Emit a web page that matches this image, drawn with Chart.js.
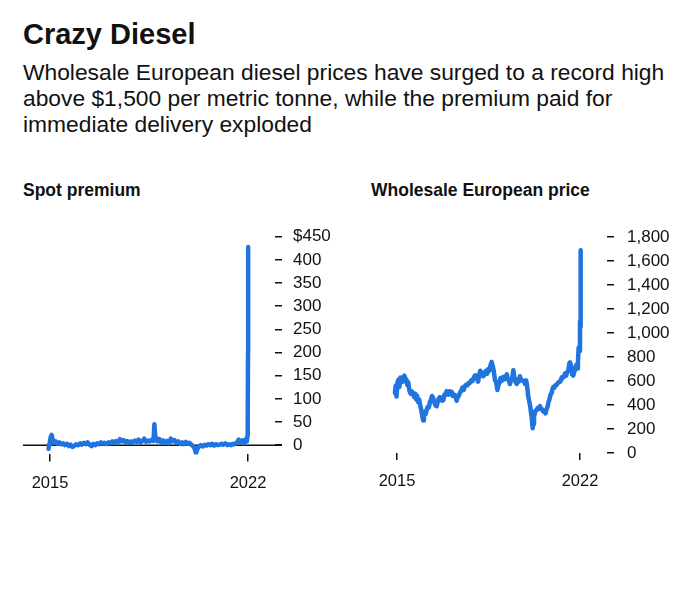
<!DOCTYPE html>
<html>
<head>
<meta charset="utf-8">
<script src="https://cdn.jsdelivr.net/npm/chart.js@4"></script>
<style>
  body { margin: 0; background: #fff; width: 680px; height: 616px; position: relative; overflow: hidden;
         font-family: "Liberation Sans", Arial, sans-serif; color: #111; }
  .title { position: absolute; left: 23px; top: 19.5px; font-size: 29px; line-height: 29px; font-weight: bold; }
  .sub { position: absolute; left: 23px; top: 59px; width: 670px; font-size: 22.8px; line-height: 26px; }
  .ctitle { position: absolute; top: 182.3px; font-size: 17.5px; line-height: 17.5px; font-weight: bold; }
  canvas { position: absolute; top: 200px; }
</style>
</head>
<body>
<div class="title">Crazy Diesel</div>
<div class="sub">Wholesale European diesel prices have surged to a record high<br>above $1,500 per metric tonne, while the premium paid for<br>immediate delivery exploded</div>
<div class="ctitle" style="left:23px">Spot premium</div>
<div class="ctitle" style="left:371px">Wholesale European price</div>
<canvas id="spot" width="340" height="310" style="left:0"></canvas>
<canvas id="price" width="340" height="310" style="left:340px"></canvas>
<script>
// spot premium, $/t
const spotYears = [2014.95, 2014.97, 2015.0, 2015.03, 2015.06, 2015.09, 2015.13, 2015.2, 2015.27, 2015.33, 2015.4, 2015.47, 2015.53, 2015.6, 2015.67, 2015.73, 2015.8, 2015.87, 2015.93,
  2016.0, 2016.07, 2016.13, 2016.2, 2016.27, 2016.33, 2016.4, 2016.47, 2016.53, 2016.6, 2016.67, 2016.73, 2016.8, 2016.87, 2016.93,
  2017.0, 2017.07, 2017.13, 2017.2, 2017.27, 2017.33, 2017.4, 2017.47, 2017.53, 2017.6, 2017.67, 2017.73, 2017.8, 2017.87, 2017.93,
  2018.0, 2018.07, 2018.13, 2018.2, 2018.27, 2018.33, 2018.4, 2018.47, 2018.53, 2018.6, 2018.66, 2018.69, 2018.72, 2018.76, 2018.8, 2018.87, 2018.93,
  2019.0, 2019.07, 2019.13, 2019.2, 2019.27, 2019.33, 2019.4, 2019.47, 2019.53, 2019.6, 2019.67, 2019.73, 2019.8, 2019.87, 2019.93,
  2020.0, 2020.07, 2020.12, 2020.16, 2020.2, 2020.25, 2020.33, 2020.4, 2020.47, 2020.53, 2020.6, 2020.67, 2020.73, 2020.8, 2020.87, 2020.93,
  2021.0, 2021.07, 2021.13, 2021.2, 2021.27, 2021.33, 2021.4, 2021.47, 2021.53, 2021.6, 2021.67, 2021.73, 2021.8, 2021.87, 2021.93, 2021.96, 2021.98, 2021.99, 2022.0, 2022.005];
const spotValues = [-8, 2, 10, 18, 22, 12, 5, 8, 3, 6, 2, 4, 0, 3, -2, 1, -4, -1, 2,
  0, 4, 1, 5, 2, 6, 1, -2, 3, 0, 4, 2, 6, 3, 5,
  2, 6, 4, 8, 5, 9, 6, 13, 8, 11, 6, 9, 5, 8, 6,
  10, 7, 12, 6, 9, 14, 7, 10, 8, 12, 9, 45, 20, 14, 8, 13, 6,
  10, 5, 9, 4, 14, 8, 11, 5, 8, 3, 6, 2, 7, 3, 5,
  1, -3, -8, -18, -10, -4, 0, -3, 1, -1, 2, 0, 3, -1, 2, 0,
  1, 3, 1, 4, 0, 2, 0, 3, 2, 5, 12, 6, 10, 4, 14, 8, 20, 45, 200, 428];

// wholesale European diesel, $/t
const priceYears = [2014.92, 2014.95, 2014.98, 2015.02, 2015.05, 2015.09, 2015.13, 2015.18, 2015.23, 2015.28, 2015.31, 2015.36, 2015.4, 2015.43, 2015.48, 2015.52, 2015.56, 2015.61, 2015.66, 2015.7, 2015.74, 2015.77, 2015.81, 2015.85, 2015.88, 2015.92, 2015.96,
  2016.0, 2016.03, 2016.07, 2016.1, 2016.14, 2016.18, 2016.22, 2016.26, 2016.3, 2016.34, 2016.39, 2016.43, 2016.47, 2016.52, 2016.56, 2016.6, 2016.64, 2016.68, 2016.72, 2016.77, 2016.81, 2016.86, 2016.9, 2016.95,
  2017.0, 2017.04, 2017.09, 2017.13, 2017.17, 2017.21, 2017.25, 2017.28, 2017.32, 2017.36, 2017.41, 2017.45, 2017.5, 2017.55, 2017.6, 2017.65, 2017.7, 2017.75, 2017.79, 2017.84, 2017.89, 2017.93, 2017.98,
  2018.02, 2018.06, 2018.1, 2018.14, 2018.18, 2018.22, 2018.26, 2018.3, 2018.35, 2018.4, 2018.45, 2018.49, 2018.53, 2018.57, 2018.62, 2018.66, 2018.7, 2018.75, 2018.79, 2018.84, 2018.88, 2018.92, 2018.96,
  2019.0, 2019.04, 2019.08, 2019.12, 2019.16, 2019.2, 2019.24, 2019.28, 2019.32, 2019.36, 2019.4, 2019.45, 2019.49, 2019.53, 2019.58, 2019.62, 2019.66, 2019.7, 2019.74, 2019.78, 2019.82, 2019.86, 2019.9, 2019.94, 2019.98,
  2020.02, 2020.06, 2020.1, 2020.13, 2020.15, 2020.17, 2020.19, 2020.21, 2020.24, 2020.27, 2020.3, 2020.34, 2020.38, 2020.42, 2020.47, 2020.51, 2020.55, 2020.6, 2020.64, 2020.68, 2020.72, 2020.76, 2020.79, 2020.83, 2020.87, 2020.91, 2020.95, 2020.98,
  2021.02, 2021.06, 2021.1, 2021.14, 2021.17, 2021.21, 2021.25, 2021.3, 2021.34, 2021.38, 2021.43, 2021.47, 2021.51, 2021.55, 2021.59, 2021.62, 2021.66, 2021.7, 2021.74, 2021.78, 2021.82, 2021.86, 2021.89, 2021.92, 2021.95, 2021.98,
  2022.0, 2022.01, 2022.02, 2022.03];
const priceValues = [500, 560, 470, 590, 610, 550, 630, 615, 595, 645, 625, 610, 565, 590, 515, 495, 515, 500, 465, 495, 445, 475, 425, 445, 405, 365, 315,
  270, 305, 345, 325, 365, 385, 380, 425, 445, 475, 455, 420, 395, 390, 430, 455, 465, 445, 435, 440, 485, 495, 515, 485,
  515, 490, 510, 475, 475, 485, 460, 435, 465, 475, 505, 515, 545, 525, 560, 570, 565, 585, 585, 605, 600, 625, 645,
  645, 625, 595, 645, 685, 675, 645, 640, 655, 685, 660, 700, 685, 725, 760, 725, 685, 605, 595, 525, 565, 585, 625,
  600, 630, 635, 615, 635, 655, 615, 605, 575, 605, 615, 690, 625, 595, 575, 615, 595, 640, 615, 605, 605, 595, 575, 605, 555,
  470, 430, 380, 330, 300, 250, 206, 240, 300, 330, 355, 355, 375, 370, 390, 365, 365, 345, 345, 330, 365, 385, 420, 445, 485, 495, 535, 550,
  545, 565, 565, 580, 585, 595, 595, 630, 625, 635, 665, 645, 675, 685, 745, 755, 725, 655, 645, 675, 705, 735, 705, 755, 880, 850,
  1100, 1050, 1400, 1690];

const yearTicks = [2015, 2022];
const spotTicks = [0, 50, 100, 150, 200, 250, 300, 350, 400, 450];
const priceTicks = [0, 200, 400, 600, 800, 1000, 1200, 1400, 1600, 1800];

const BLUE = "#1f74e0";
const INK = "#111";
Chart.defaults.font.family = '"Liberation Sans", Arial, sans-serif';
Chart.defaults.color = INK;

function pairs(xs, ys) {
  return xs.map((x, i) => ({ x: x, y: ys[i] }));
}

// zero line on the spot chart, running under the data out to the tick dashes
const zeroLine = {
  id: "zeroLine",
  beforeDatasetsDraw(chart) {
    const { ctx, chartArea, scales } = chart;
    const y = scales.y.getPixelForValue(0);
    ctx.save();
    ctx.strokeStyle = INK;
    ctx.lineWidth = 1.5;
    ctx.beginPath();
    ctx.moveTo(chartArea.left, y);
    ctx.lineTo(chartArea.right + 7, y);
    ctx.stroke();
    ctx.restore();
  },
};

function makeChart(id, data, o) {
  return new Chart(document.getElementById(id), {
    type: "line",
    data: {
      datasets: [{
        data: data,
        borderColor: BLUE,
        borderWidth: 4.5,
        pointRadius: 0,
        tension: 0,
        borderJoinStyle: "round",
        borderCapStyle: "round",
      }],
    },
    options: {
      responsive: false,
      animation: false,
      layout: { padding: { left: o.left, top: o.top, right: 0, bottom: 0 } },
      plugins: { legend: { display: false }, tooltip: { enabled: false } },
      scales: {
        x: {
          type: "linear",
          min: o.xmin,
          max: o.xmax,
          afterBuildTicks: (s) => { s.ticks = yearTicks.map((v) => ({ value: v })); },
          afterFit: (s) => { s.height = o.xh; },
          grid: { drawOnChartArea: false, drawTicks: true, tickLength: 7, color: INK, lineWidth: 1.5 },
          border: { display: false },
          ticks: { font: { size: 16.5 }, padding: 12, maxRotation: 0, callback: (v) => String(v) },
        },
        y: {
          position: "right",
          min: o.ymin,
          max: o.ymax,
          afterBuildTicks: (s) => { s.ticks = o.yticks.map((v) => ({ value: v })); },
          afterFit: (s) => { s.width = o.yw; },
          grid: { drawOnChartArea: false, drawTicks: true, tickLength: 7, color: INK, lineWidth: 1.5 },
          border: { display: false },
          ticks: { font: { size: 17 }, padding: o.ypad, callback: o.fmt },
        },
      },
    },
    plugins: o.plugins || [],
  });
}

makeChart("spot", pairs(spotYears, spotValues), {
  left: 23, top: 36.7, xh: 55.6, yw: 65, ypad: 11,
  xmin: 2014.046, xmax: 2022.954, ymin: -20, ymax: 450,
  yticks: spotTicks,
  fmt: (v) => (v === 450 ? "$" + v : String(v)),
  plugins: [zeroLine],
});

makeChart("price", pairs(priceYears, priceValues), {
  left: 31, top: 37, xh: 57, yw: 73, ypad: 13,
  xmin: 2014.005, xmax: 2023.033, ymin: 0, ymax: 1800,
  yticks: priceTicks,
  fmt: (v) => v.toLocaleString("en-US"),
});
</script>
</body>
</html>
